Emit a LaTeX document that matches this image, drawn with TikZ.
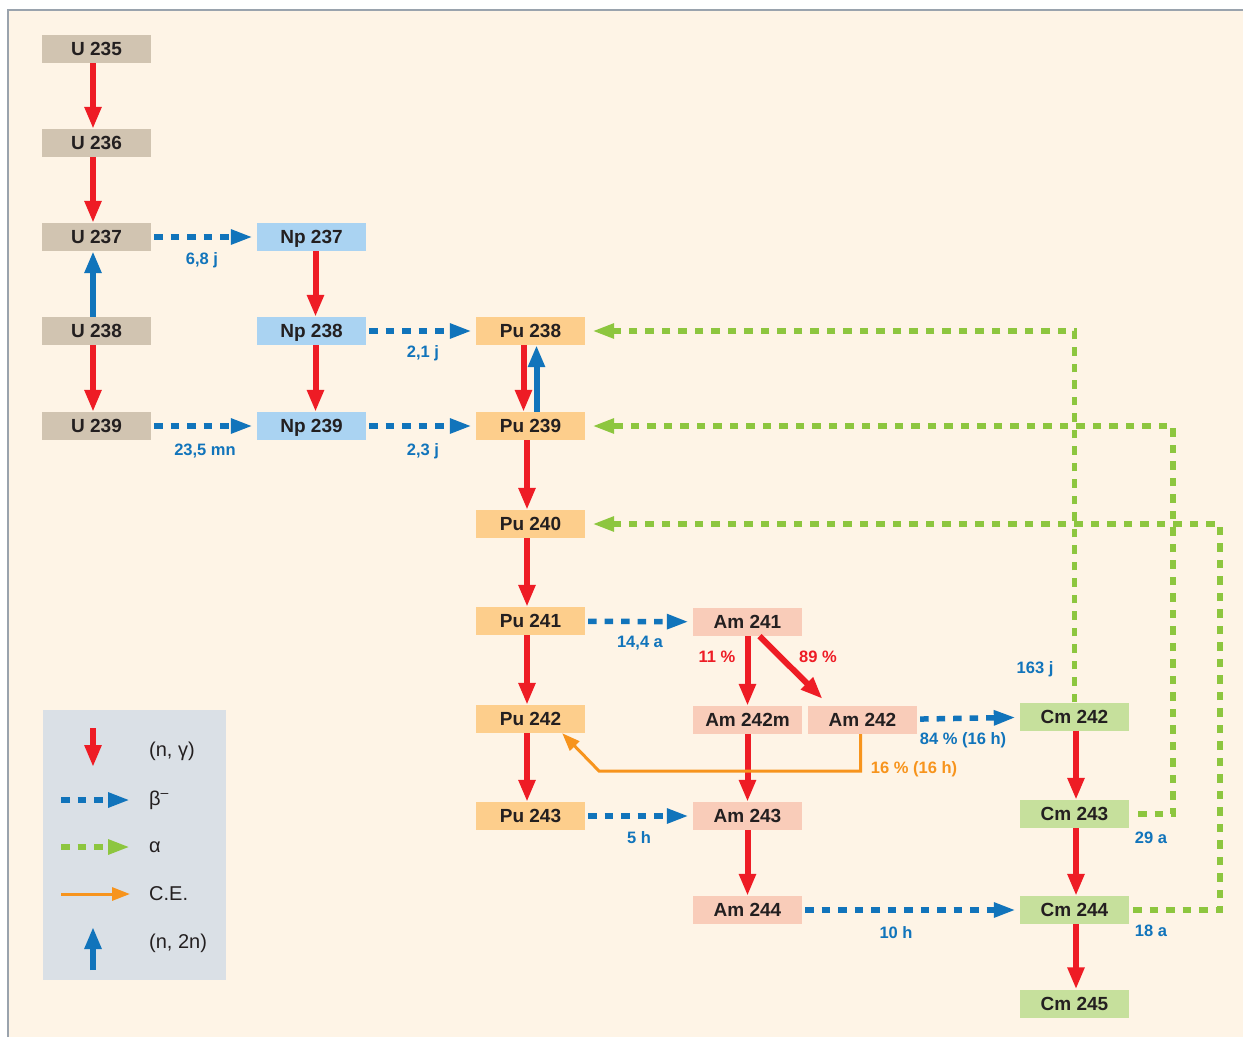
\documentclass[tikz,border=0pt]{standalone}
\usepackage{fontspec}
\setmainfont{Liberation Sans}
\usetikzlibrary{arrows.meta}
\definecolor{cream}{HTML}{FEF4E6}
\definecolor{frame}{HTML}{9AA3AD}
\definecolor{ink}{HTML}{231F20}
\definecolor{ubox}{HTML}{D1C4B1}
\definecolor{npbox}{HTML}{AAD3F2}
\definecolor{pubox}{HTML}{FDCE8C}
\definecolor{ambox}{HTML}{F9CCB9}
\definecolor{cmbox}{HTML}{C6E09C}
\definecolor{legbg}{HTML}{DAE0E6}
\definecolor{ngred}{HTML}{EE1C25}
\definecolor{betablue}{HTML}{1174BB}
\definecolor{alphagreen}{HTML}{8DC63F}
\definecolor{ceorange}{HTML}{F7941D}
\begin{document}
\begin{tikzpicture}[
x=1pt, y=-1pt,
nuc/.style={minimum width=109pt, minimum height=28pt, inner sep=0pt, text=ink,
  text height=13.7pt, text depth=0pt,
  font=\fontsize{19}{20}\selectfont\bfseries},
unuc/.style={nuc, fill=ubox},
npnuc/.style={nuc, fill=npbox},
punuc/.style={nuc, fill=pubox},
amnuc/.style={nuc, fill=ambox},
cmnuc/.style={nuc, fill=cmbox},
ng/.style={draw=ngred, line width=6pt, -{Triangle[length=22pt,width=16pt]}},
ntwon/.style={draw=betablue, line width=6pt, -{Triangle[length=22pt,width=16pt]}},
beta/.style={draw=betablue, line width=5.5pt, dash pattern=on 8.5pt off 8pt,
  -{Triangle[length=22pt,width=14pt]}, shorten <=3pt, shorten >=4pt},
alpha/.style={draw=alphagreen, line width=5.5pt, dash pattern=on 8.5pt off 8pt,
  -{Triangle[length=22pt,width=14pt]}, shorten >=7pt},
ce/.style={draw=ceorange, line width=3pt, -{Triangle[length=18pt,width=13pt]}},
lab/.style={text=betablue, font=\fontsize{16.5}{18}\selectfont\bfseries, inner sep=0pt},
legtxt/.style={text=ink, font=\fontsize{20}{22}\selectfont, anchor=west, inner sep=0pt}
]
% background and frame
\useasboundingbox (0,0) rectangle (1243,1037);
\fill[white] (0,0) rectangle (1243,1037);
\fill[cream] (8,10) rectangle (1243,1037);
\draw[frame, line width=2pt] (8,1037) -- (8,10) -- (1243,10);

% nuclides
\foreach \m/\y in {235/49,236/143,237/237,238/331,239/426}
  \node[unuc] (u\m) at (96.5,\y) {U \m};
\foreach \m/\y in {237/237,238/331,239/426}
  \node[npnuc] (np\m) at (311.5,\y) {Np \m};
\foreach \m/\y in {238/331,239/426,240/524,241/621,242/719,243/816}
  \node[punuc] (pu\m) at (530.5,\y) {Pu \m};
\node[amnuc] (am241) at (747.5,622) {Am 241};
\node[amnuc] (am242m) at (747.5,720) {Am 242m};
\node[amnuc] (am242) at (862.5,720) {Am 242};
\node[amnuc] (am243) at (747.5,816) {Am 243};
\node[amnuc] (am244) at (747.5,910) {Am 244};
\foreach \m/\y in {242/716.5,243/814,244/910,245/1003.5}
  \node[cmnuc] (cm\m) at (1074.5,\y) {Cm \m};

% (n, gamma)
\foreach \a/\b/\s in {u235/u236/-3.5,u236/u237/-3.5,u238/u239/-3.5,
  np237/np238/4,np238/np239/4,pu239/pu240/-3.5,pu240/pu241/-3.5,
  pu241/pu242/-3.5,pu242/pu243/-3.5,am241/am242m/0,am242m/am243/0,
  am243/am244/0,cm242/cm243/1.5,cm243/cm244/1.5,cm244/cm245/1.5}
  \draw[ng] ([xshift=\s pt]\a.south) -- ([xshift=\s pt]\b.north);
\draw[ng] ([xshift=-7pt]pu238.south) -- ([xshift=-7pt]pu239.north);
\draw[ng] ([xshift=12pt]am241.south) -- ([xshift=-40pt,yshift=7pt]am242.north);

% (n, 2n)
\draw[ntwon] ([xshift=-3.5pt]u238.north) -- ([xshift=-3.5pt]u237.south);
\draw[ntwon] ([xshift=6pt]pu239.north) -- ([xshift=6pt]pu238.south);

% beta-
\draw[beta] (u237) -- (np237);
\draw[beta] (u239) -- (np239);
\draw[beta] (np238) -- (pu238);
\draw[beta] (np239) -- (pu239);
\draw[beta] (pu241) -- (am241);
\draw[beta] (pu243) -- (am243);
\draw[beta] (am242) -- (cm242);
\draw[beta] (am244) -- (cm244);

% alpha
\draw[alpha] (cm242.north) |- (pu238.east);
\draw[alpha, shorten <=9pt] (cm243.east) -- ++(44,0) |- (pu239.east);
\draw[alpha, shorten <=4pt] (cm244.east) -- ++(91,0) |- (pu240.east);

% electron capture
\coordinate (ecbend) at (599,771);
\draw[ce] ([xshift=-2pt]am242.south) |- (ecbend) -- ([xshift=-23pt]pu242.south east);

% half-lives and ratios
\node[lab] at (202,260) {6,8 j};
\node[lab] at (205,451) {23,5 mn};
\node[lab] at (423,353) {2,1 j};
\node[lab] at (423,451) {2,3 j};
\node[lab] at (640,643) {14,4 a};
\node[lab] at (639,838) {5 h};
\node[lab] at (963,740) {84 \% (16 h)};
\node[lab] at (896,933) {10 h};
\node[lab] at (1035,669) {163 j};
\node[lab] at (1151,838) {29 a};
\node[lab] at (1151,931) {18 a};
\node[lab, text=ngred] at (717,657) {11 \%};
\node[lab, text=ngred] at (818,657) {89 \%};
\node[lab, text=ceorange] at (914,769) {16 \% (16 h)};

% legend
\fill[legbg] (43,710) rectangle (226,980);
\node[legtxt] (kng) at (149,751) {(n, γ)};
\node[legtxt] (kbeta) at (149,800) {β\textsuperscript{–}};
\node[legtxt] (kalpha) at (149,847) {α};
\node[legtxt] (kce) at (149,894) {C.E.};
\node[legtxt] (kntwon) at (149,943) {(n, 2n)};
\draw[ng] (93,728) -- (93,767);
\draw[beta, shorten <=0pt, shorten >=0pt] (61,800) -- (130,800);
\draw[alpha, shorten >=0pt] (61,847) -- (130,847);
\draw[ce] (61,894) -- (130,894);
\draw[ntwon] (93,970) -- (93,927);
\end{tikzpicture}
\end{document}
